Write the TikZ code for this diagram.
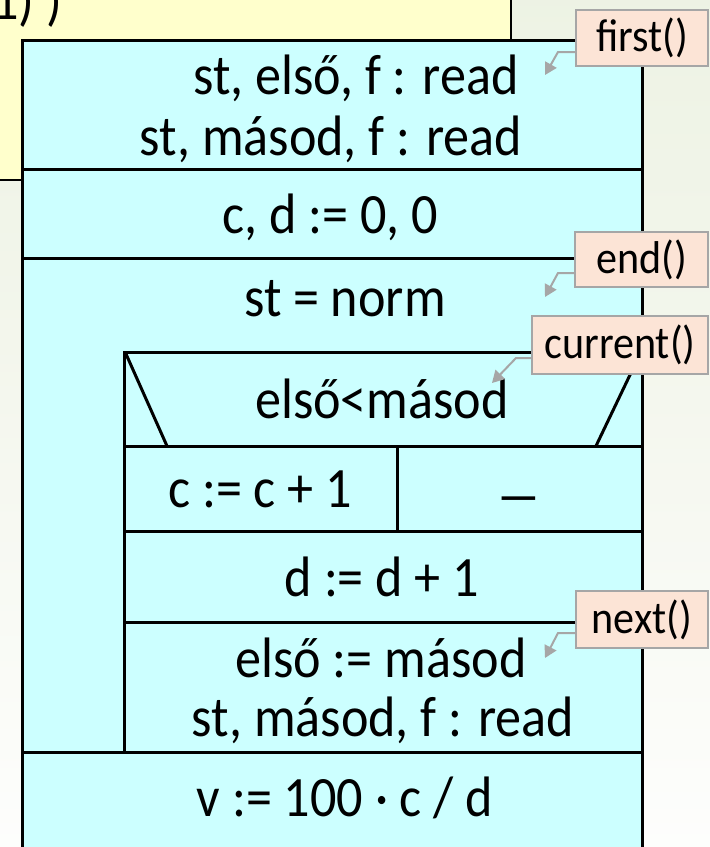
\documentclass[tikz,border=0pt]{standalone}
\usepackage{fontspec}
\setmainfont{Carlito}[FakeStretch=0.915]
\usetikzlibrary{arrows.meta}

\definecolor{nscyan}{HTML}{CCFFFF}
\definecolor{noteyellow}{HTML}{FFFFCC}
\definecolor{calloutfill}{HTML}{FCE4D6}
\definecolor{calloutline}{HTML}{A6A6A6}
\definecolor{bgtop}{HTML}{E6EEDA}
\definecolor{bgmid}{HTML}{F3F6EC}
\pgfdeclareverticalshading{pagebg}{100bp}{color(0bp)=(white); color(20bp)=(white); color(55bp)=(bgmid); color(100bp)=(bgtop)}

\begin{document}
\begin{tikzpicture}[x=1pt,y=-1pt,
  stmt/.style={anchor=base, inner sep=0pt, font=\fontsize{57}{66}\selectfont},
  callout/.style={fill=calloutfill, draw=calloutline, line width=2pt, inner sep=0pt,
                  font=\fontsize{46}{54}\selectfont},
  callarrow/.style={draw=calloutline, line width=2pt, -{Triangle[length=12pt,width=13pt]}},
  struct/.style={line width=3pt, line cap=rect}]

\useasboundingbox (0,0) rectangle (710,847);
\clip (0,0) rectangle (710,847);

% page background
\shade[shading=pagebg] (0,0) rectangle (710,847);

% note box behind the structogram
\draw[fill=noteyellow, line width=2pt] (-10,-10) rectangle (511,180);
\node[stmt, anchor=base west] (notetail) at (-8,19) {1) )};

% structogram frame
\draw[struct, fill=nscyan] (22,40) rectangle (642,880);
\draw[struct] (22,169) -- (642,169);
\draw[struct] (22,258) -- (642,258);
\draw[struct] (22,752) -- (642,752);

% loop body
\draw[struct] (124,352) -- (642,352);
\draw[struct] (124,352) -- (124,752);
\draw[struct] (124,446) -- (642,446);
\draw[struct] (124,531) -- (642,531);
\draw[struct] (124,622) -- (642,622);
\draw[struct] (397,446) -- (397,531);
% branch condition slants
\draw[line width=3pt] (126,354) -- (167,446);
\draw[line width=3pt] (640,354) -- (596,446);

% statements
\node[stmt] (read1) at (356,94) {st, első, f : read};
\node[stmt] (read2) at (331,155) {st, másod, f : read};
\node[stmt] (init) at (330,233) {c, d := 0, 0};
\node[stmt] (loopcond) at (345,316) {st = norm};
\node[stmt] (ifcond) at (382,418) {első<másod};
\node[stmt] (thenbr) at (260,507) {c := c + 1};
\node[stmt] (elsebr) at (519,514) {\scalebox{1.8}[1]{–}};
\node[stmt] (incd) at (382,596) {d := d + 1};
\node[stmt] (shift) at (381,677) {első := másod};
\node[stmt] (read3) at (383,736) {st, másod, f : read};
\node[stmt] (result) at (345,816) {v := 100 · c / d};

% enumerator operation callouts
\node[callout, minimum width=132pt, minimum height=56pt] (cfirst) at (642,38) {first()};
\node[callout, minimum width=133pt, minimum height=55pt] (cend) at (641.5,259.5) {end()};
\node[callout, minimum width=176pt, minimum height=58pt] (ccur) at (620,345) {current()};
\node[callout, minimum width=132pt, minimum height=57pt] (cnext) at (642,619.5) {next()};

\coordinate (bfirst) at (558,52);  \coordinate (tfirst) at (545,75);
\coordinate (bend) at (558,273);   \coordinate (tend) at (545,297);
\coordinate (bcur) at (516,358);   \coordinate (tcur) at (492,383);
\coordinate (bnext) at (558,633);  \coordinate (tnext) at (545,658);

\draw[callarrow] (cfirst.west |- bfirst) -- (bfirst) -- (tfirst);
\draw[callarrow] (cend.west |- bend) -- (bend) -- (tend);
\draw[callarrow] (ccur.west |- bcur) -- (bcur) -- (tcur);
\draw[callarrow] (cnext.west |- bnext) -- (bnext) -- (tnext);
\end{tikzpicture}
\end{document}
